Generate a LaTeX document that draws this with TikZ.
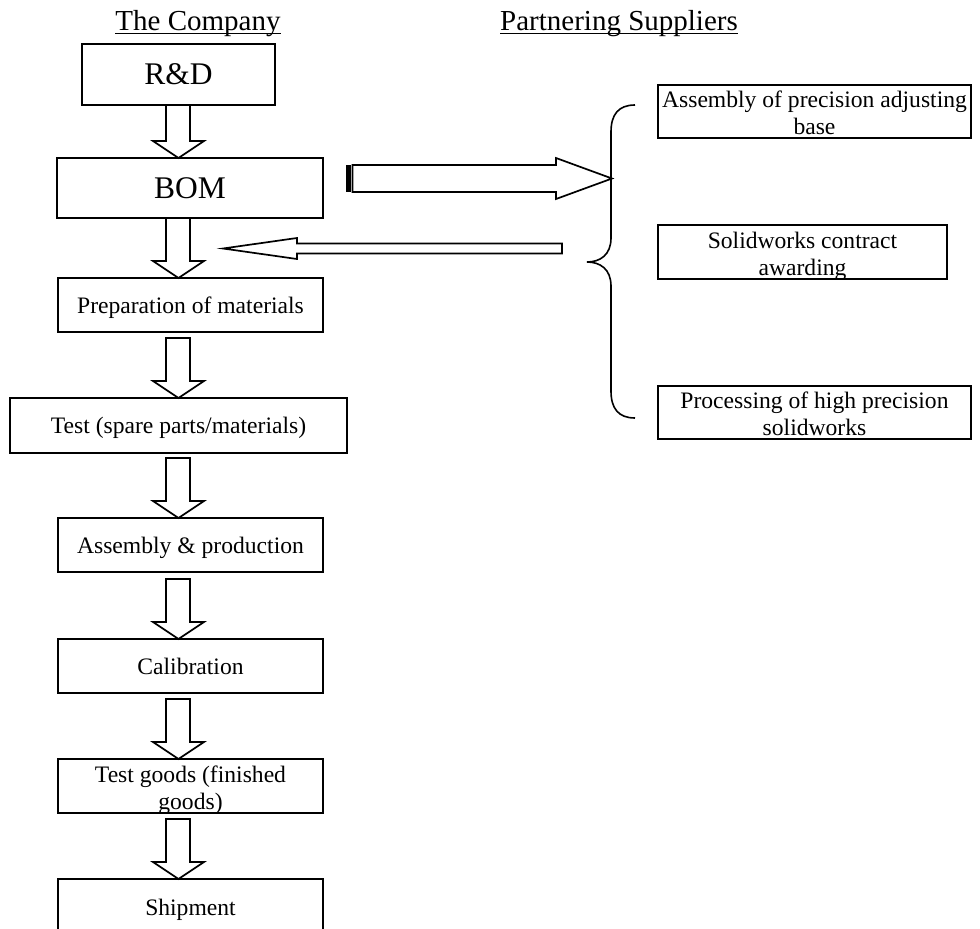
\documentclass[tikz,border=0pt]{standalone}
\usepackage{fontspec}
\setmainfont{Liberation Serif}
\usetikzlibrary{calc}
\newcommand\blkdown[3]{%
  \draw[blk] let \p1=(#1.south), \p2=(#2.north) in
    (166pt,{\y1-#3}) -- (166pt,{\y2+17pt}) -- (153pt,{\y2+17pt}) -- (178.5pt,\y2)
    -- (204pt,{\y2+17pt}) -- (190pt,{\y2+17pt}) -- (190pt,{\y1-#3}) -- cycle;}
\begin{document}
\begin{tikzpicture}[x=1pt,y=-1pt,
  box/.style={draw,line width=2pt,inner sep=0pt,outer sep=0pt,anchor=north west,
    text depth=0pt,font=\fontsize{23.6}{27}\selectfont},
  bigtxt/.style={font=\fontsize{31.5}{36}\selectfont},
  txt/.style={inner sep=0pt,outer sep=0pt,align=center,anchor=north,
    font=\fontsize{23.6}{27}\selectfont},
  ttl/.style={inner sep=0pt,outer sep=0pt,anchor=base,font=\fontsize{29}{33}\selectfont},
  blk/.style={draw,line width=1.7pt,fill=white,line join=miter},
  brc/.style={draw,line width=1.6pt}]
\clip (0,0) rectangle (980,929);
% titles
\node[ttl] (tc) at (198,30) {The Company};
\draw[line width=1.4pt] ($(tc.base west)+(0,3.5)$) -- ($(tc.base east)+(0,3.5)$);
\node[ttl] (ps) at (619,30) {Partnering Suppliers};
\draw[line width=1.4pt] ($(ps.base west)+(0,3.5)$) -- ($(ps.base east)+(0,3.5)$);
% left column
\node[box,bigtxt,minimum width=193pt,minimum height=61pt] (rd) at (82,44) {R\&D};
\node[box,bigtxt,minimum width=266pt,minimum height=60pt] (bom) at (57,158) {BOM};
\node[box,minimum width=265pt,minimum height=54pt] (prep) at (58,278) {Preparation of materials};
\node[box,minimum width=337pt,minimum height=55pt] (test) at (10,398) {Test (spare parts/materials)};
\node[box,minimum width=265pt,minimum height=54pt] (assy) at (58,518) {Assembly \& production};
\node[box,minimum width=265pt,minimum height=54pt] (cal) at (58,639) {Calibration};
\node[box,minimum width=265pt,minimum height=54pt] (tg) at (58,759) {};
\begin{scope}
  \clip (tg.north west) rectangle (tg.south east);
  \node[txt] (tgt) at (190.5,765.6) {Test goods (finished\\goods)};
\end{scope}
\node[box,minimum width=265pt,minimum height=56pt] (ship) at (58,879) {Shipment};
% down block arrows
\blkdown{rd}{bom}{0pt}
\blkdown{bom}{prep}{0pt}
\blkdown{prep}{test}{6pt}
\blkdown{test}{assy}{5pt}
\blkdown{assy}{cal}{7pt}
\blkdown{cal}{tg}{6pt}
\blkdown{tg}{ship}{6pt}
% right boxes
\node[box,minimum width=313pt,minimum height=53pt] (s1) at (658,85) {};
\begin{scope}
  \clip (s1.north west) rectangle (s1.south east);
  \node[txt] (s1t) at (814.5,90.9) {Assembly of precision adjusting\\base};
\end{scope}
\node[box,minimum width=289pt,minimum height=54pt] (s2) at (658,225) {};
\begin{scope}
  \clip (s2.north west) rectangle (s2.south east);
  \node[txt] (s2t) at (802.5,231.9) {Solidworks contract\\awarding};
\end{scope}
\node[box,minimum width=313pt,minimum height=53pt] (s3) at (658,386) {};
\begin{scope}
  \clip (s3.north west) rectangle (s3.south east);
  \node[txt] (s3t) at (814.5,391.9) {Processing of high precision\\solidworks};
\end{scope}
% brace
\coordinate (bt) at (635,105);
\coordinate (bm) at (587,262);
\coordinate (bb) at (635,418);
\coordinate (ba) at (612,178.5);
\draw[brc] (bt) .. controls (618,105) and (611,115) .. (611,132) -- (611,238)
  .. controls (611,255) and (600,262) .. (bm)
  .. controls (600,262) and (611,269) .. (611,286) -- (611,391)
  .. controls (611,408) and (618,418) .. (bb);
% right block arrow (BOM -> suppliers)
\coordinate (ra) at (346,178.5);
\fill ($(ra)+(0,-13.5)$) rectangle ($(ra)+(4.5,13.5)$);
\draw[blk] ($(ra)+(6.5,-13.5)$) -- (556,165) -- (556,158) -- (ba) -- (556,199) -- (556,192)
  -- ($(ra)+(6.5,13.5)$) -- cycle;
% left block arrow (suppliers -> materials)
\coordinate (la) at (562,248.5);
\coordinate (lt) at (223,248.5);
\draw[blk] ($(la)+(0,-5)$) -- (297,243.5) -- (297,238) -- (lt) -- (297,259) -- (297,253.5)
  -- ($(la)+(0,5)$) -- cycle;
\end{tikzpicture}
\end{document}
